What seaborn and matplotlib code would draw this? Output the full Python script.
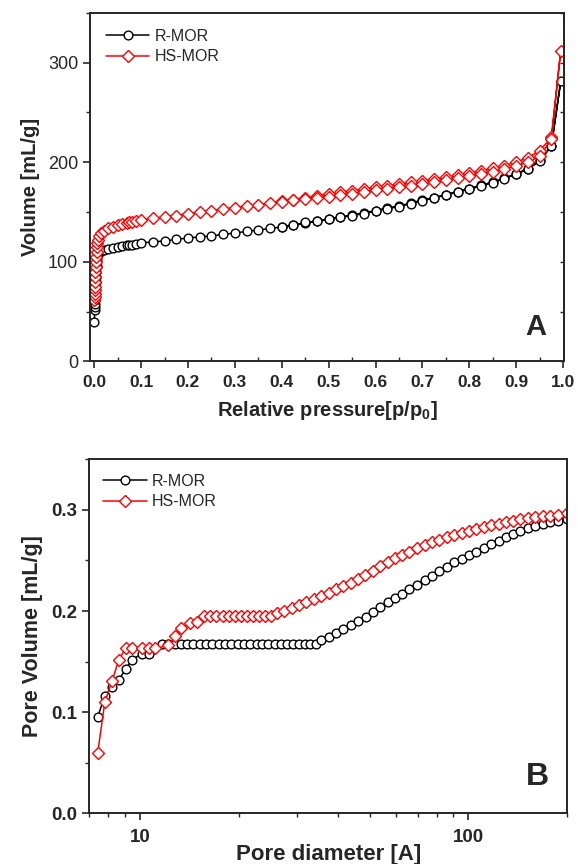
import matplotlib
matplotlib.use('Agg')
import matplotlib.pyplot as plt
from matplotlib.ticker import FixedLocator, FuncFormatter, NullFormatter, MultipleLocator
import seaborn as sns
import pandas as pd
import numpy as np

# ---- panel A: N2 isotherms (adsorption then desorption) ----
r_p = [0.0005, 0.0008, 0.001, 0.0012, 0.0015, 0.0018, 0.002, 0.0025, 0.003, 0.0035, 0.004, 0.005,
       0.006, 0.008, 0.01, 0.015, 0.02, 0.03, 0.04, 0.05, 0.06, 0.07, 0.075, 0.08, 0.09, 0.1,
       0.125, 0.15, 0.175, 0.2, 0.225, 0.25, 0.275, 0.3, 0.325, 0.35, 0.375, 0.4, 0.425, 0.45,
       0.475, 0.5, 0.525, 0.55, 0.575, 0.6, 0.625, 0.65, 0.675, 0.7, 0.725, 0.75, 0.775, 0.8,
       0.825, 0.85, 0.875, 0.9, 0.925, 0.95, 0.975, 0.995,
       0.975, 0.95, 0.925, 0.9, 0.875, 0.85, 0.825, 0.8, 0.775, 0.75, 0.725, 0.7, 0.675, 0.65,
       0.625, 0.6, 0.575, 0.55, 0.525, 0.5, 0.475, 0.45, 0.425, 0.4]
r_vol = [40, 52, 55, 58, 62, 66, 70, 75, 80, 85, 90, 96,
         102, 107, 110, 111, 112, 113, 114, 115, 116, 116.5, 117, 117, 118, 119,
         120, 121, 122.5, 124, 125, 126, 127.5, 129, 130.5, 132, 133.5, 135, 137, 139,
         141, 143, 145, 147, 149, 151.5, 154, 156, 159, 162, 164.5, 167.5, 170.5, 173.5,
         177, 180, 184, 188.5, 193.5, 202, 216.5, 281,
         216, 201, 193, 188, 183.5, 179.5, 176, 173, 170, 167, 164, 161.5, 158.5, 155.5,
         153.5, 151, 148.5, 146.5, 144.5, 142.5, 140.5, 139.5, 136.5, 134.5]

hs_p = [0.0005, 0.0008, 0.001, 0.0012, 0.0015, 0.0018, 0.002, 0.0025, 0.003, 0.0035, 0.004, 0.005,
        0.006, 0.007, 0.008, 0.01, 0.015, 0.02, 0.03, 0.04, 0.05, 0.06, 0.07, 0.075, 0.08, 0.09,
        0.1, 0.125, 0.15, 0.175, 0.2, 0.225, 0.25, 0.275, 0.3, 0.325, 0.35, 0.375, 0.4, 0.425,
        0.45, 0.475, 0.5, 0.525, 0.55, 0.575, 0.6, 0.625, 0.65, 0.675, 0.7, 0.725, 0.75, 0.775,
        0.8, 0.825, 0.85, 0.875, 0.9, 0.925, 0.95, 0.975, 0.995,
        0.975, 0.95, 0.925, 0.9, 0.875, 0.85, 0.825, 0.8, 0.775, 0.75, 0.725, 0.7, 0.675, 0.65,
        0.625, 0.6, 0.575, 0.55, 0.525, 0.5, 0.475, 0.45, 0.425, 0.4]
hs_vol = [62, 65, 68, 72, 75, 80, 85, 90, 95, 100, 105, 110,
          115, 119, 122, 126, 129, 131, 133.5, 135, 136.5, 137.5, 139, 139.5, 140, 141,
          142, 143.5, 145, 146.5, 148.5, 150, 151.5, 153, 154.5, 156, 157.5, 159, 161, 162.5,
          164, 166, 168.5, 170, 171.5, 173, 175, 176.5, 178, 180, 181.5, 183, 185, 187,
          189, 191.5, 194, 196.5, 200, 204.5, 211.5, 225, 312,
          223, 206, 200, 196.5, 193, 190.5, 188, 186, 184, 182, 180, 178.5, 176.5, 175,
          173.5, 172, 170, 168.5, 167, 165.5, 164.5, 163.5, 162, 160.5]

# ---- panel B: cumulative pore volume ----
r_d = [7.44, 7.82, 8.23, 8.63, 9.04, 9.47, 10.16, 10.64, 11.7, 12.2, 12.8, 13.3, 13.9, 14.5,
       15.2, 15.9, 16.6, 17.4, 18.2, 19.0, 19.9, 20.8, 21.7, 22.7, 23.6, 24.6, 25.7, 26.8,
       28.0, 29.2, 30.5, 31.8, 33.0, 34.3, 35.6, 37.6, 39.6, 41.6, 43.8, 46.1, 48.9, 51.2,
       53.9, 56.8, 59.8, 63.0, 66.0, 69.9, 73.6, 77.5, 81.6, 86.0, 90.6, 95.4, 100.5, 105.8,
       111.4, 117.4, 123.6, 130.0, 137.0, 144.0, 152.0, 160.0, 168.5, 177.5, 187.0, 200.0]
r_pv = [0.0955, 0.116, 0.125, 0.132, 0.1425, 0.152, 0.158, 0.158, 0.167, 0.167, 0.167, 0.167,
        0.167, 0.167, 0.167, 0.167, 0.167, 0.167, 0.167, 0.167, 0.167, 0.167, 0.167, 0.167,
        0.167, 0.167, 0.167, 0.167, 0.167, 0.167, 0.167, 0.167, 0.167, 0.167, 0.171, 0.1744,
        0.178, 0.1826, 0.1866, 0.19, 0.194, 0.199, 0.204, 0.209, 0.213, 0.217, 0.222, 0.226,
        0.231, 0.235, 0.240, 0.244, 0.248, 0.251, 0.255, 0.2586, 0.262, 0.266, 0.2695, 0.273,
        0.276, 0.279, 0.282, 0.284, 0.2864, 0.288, 0.2894, 0.291]

hs_d = [7.44, 7.82, 8.23, 8.63, 9.04, 9.47, 10.16, 10.64, 11.15, 12.2, 12.8, 13.3, 14.2, 14.9,
        15.7, 16.4, 17.1, 17.9, 18.7, 19.5, 20.3, 21.2, 22.1, 23.1, 24.1, 25.1, 26.2, 27.5,
        29.0, 30.5, 32.1, 33.8, 35.6, 37.6, 39.6, 41.6, 43.8, 46.1, 48.6, 51.2, 53.9, 56.8,
        59.8, 63.0, 66.0, 69.9, 73.6, 77.5, 81.6, 86.0, 90.6, 95.4, 100.5, 105.8, 111.4, 117.4,
        123.6, 130.0, 137.0, 144.0, 152.0, 160.0, 168.5, 177.5, 187.0, 200.0]
hs_pv = [0.060, 0.110, 0.131, 0.152, 0.163, 0.163, 0.163, 0.163, 0.163, 0.166, 0.175, 0.183,
         0.188, 0.189, 0.195, 0.195, 0.195, 0.195, 0.195, 0.195, 0.195, 0.195, 0.195, 0.195,
         0.195, 0.195, 0.1976, 0.200, 0.203, 0.206, 0.209, 0.212, 0.215, 0.218, 0.2214, 0.2247,
         0.228, 0.2314, 0.2354, 0.2397, 0.2446, 0.2486, 0.2523, 0.2552, 0.2586, 0.2619, 0.2652,
         0.2678, 0.270, 0.2728, 0.275, 0.277, 0.2794, 0.281, 0.283, 0.2848, 0.2864, 0.288,
         0.2894, 0.2907, 0.2917, 0.2927, 0.2937, 0.2943, 0.2953, 0.2967]

sns.set_style('ticks')
plt.rcParams['font.family'] = ['Liberation Sans', 'DejaVu Sans']
plt.rcParams['mathtext.fontset'] = 'custom'
plt.rcParams['mathtext.bf'] = 'Liberation Sans:bold'

fig = plt.figure(figsize=(5.78, 8.64), dpi=100)
axA = fig.add_axes([0.1557, 0.5816, 0.8201, 0.4037])
axB = fig.add_axes([0.154, 0.0585, 0.8275, 0.410])

circ = dict(marker='o', markersize=6.3, markerfacecolor='white', markeredgecolor='black',
            markeredgewidth=1.0, linewidth=1.1)
diam = dict(marker='D', markersize=6.3, markerfacecolor='white', markeredgecolor='#ff0000',
            markeredgewidth=1.0, linewidth=1.1)

# panel A
sns.lineplot(x=r_p, y=r_vol, sort=False, estimator=None, color='black', label='R-MOR',
             ax=axA, legend=False, **circ)
sns.lineplot(x=hs_p, y=hs_vol, sort=False, estimator=None, color='#ff0000', label='HS-MOR',
             ax=axA, legend=False, **diam)
axA.set_xlim(-0.009, 1.002)
axA.set_ylim(0, 350)
axA.xaxis.set_major_locator(MultipleLocator(0.1))
axA.xaxis.set_minor_locator(MultipleLocator(0.05))
axA.xaxis.set_major_formatter(FuncFormatter(lambda v, p: '%.1f' % v))
axA.yaxis.set_major_locator(MultipleLocator(100))
axA.yaxis.set_minor_locator(MultipleLocator(50))
axA.tick_params(axis='x', which='major', direction='out', length=5, width=1.2, labelsize=12.5, pad=5)
axA.tick_params(axis='x', which='minor', direction='in', length=3, width=1.0)
axA.tick_params(axis='y', which='major', direction='out', length=5, width=1.2, labelsize=13)
axA.tick_params(axis='y', which='minor', direction='out', length=3, width=1.0)
for t in axA.get_xticklabels():
    t.set_fontweight('bold')
sec = axA.secondary_yaxis('right')
sec.yaxis.set_major_locator(MultipleLocator(50))
sec.tick_params(direction='in', length=3, width=1.0, labelright=False)
sec.spines['right'].set_linewidth(1.4)
axA.set_xlabel(r'Relative pressure[p/p$_\mathbf{0}$]', fontsize=14.5, fontweight='bold', labelpad=6)
axA.set_ylabel('Volume [mL/g]', fontsize=14.5, fontweight='bold', labelpad=6)
axA.legend(loc='upper left', frameon=False, fontsize=11.5, handlelength=2.7,
           handletextpad=0.35, labelspacing=0.35, borderaxespad=0.6)
axA.text(0.962, 0.06, 'A', transform=axA.transAxes, fontsize=21, fontweight='bold',
         ha='right', va='bottom')

# panel B
sns.lineplot(x=r_d, y=r_pv, sort=False, estimator=None, color='black', label='R-MOR',
             ax=axB, legend=False, **circ)
sns.lineplot(x=hs_d, y=hs_pv, sort=False, estimator=None, color='#ff0000', label='HS-MOR',
             ax=axB, legend=False, **diam)
axB.set_xscale('log')
axB.set_xlim(7, 200)
axB.set_ylim(0, 0.35)
axB.xaxis.set_major_locator(FixedLocator([10, 100]))
axB.xaxis.set_major_formatter(FuncFormatter(lambda v, p: '%d' % v))
axB.xaxis.set_minor_locator(FixedLocator([7, 8, 9, 20, 30, 40, 50, 60, 70, 80, 90, 200]))
axB.xaxis.set_minor_formatter(NullFormatter())
axB.yaxis.set_major_locator(MultipleLocator(0.1))
axB.yaxis.set_minor_locator(MultipleLocator(0.05))
axB.yaxis.set_major_formatter(FuncFormatter(lambda v, p: '%.1f' % v))
axB.tick_params(axis='both', which='major', direction='out', length=5, width=1.2, labelsize=13.5)
axB.tick_params(axis='x', which='major', pad=6)
axB.tick_params(axis='both', which='minor', direction='out', length=3, width=1.0)
for t in axB.get_xticklabels() + axB.get_yticklabels():
    t.set_fontweight('bold')
axB.set_xlabel('Pore diameter [A]', fontsize=16, fontweight='bold', labelpad=-1)
axB.set_ylabel('Pore Volume [mL/g]', fontsize=15.5, fontweight='bold', labelpad=6)
axB.legend(loc='upper left', frameon=False, fontsize=11.5, handlelength=2.7,
           handletextpad=0.35, labelspacing=0.35, borderaxespad=0.5)
axB.text(0.962, 0.06, 'B', transform=axB.transAxes, fontsize=23, fontweight='bold',
         ha='right', va='bottom')

for ax in (axA, axB):
    for s in ax.spines.values():
        s.set_linewidth(1.4)
        s.set_visible(True)

plt.savefig('out.png', dpi=100)
